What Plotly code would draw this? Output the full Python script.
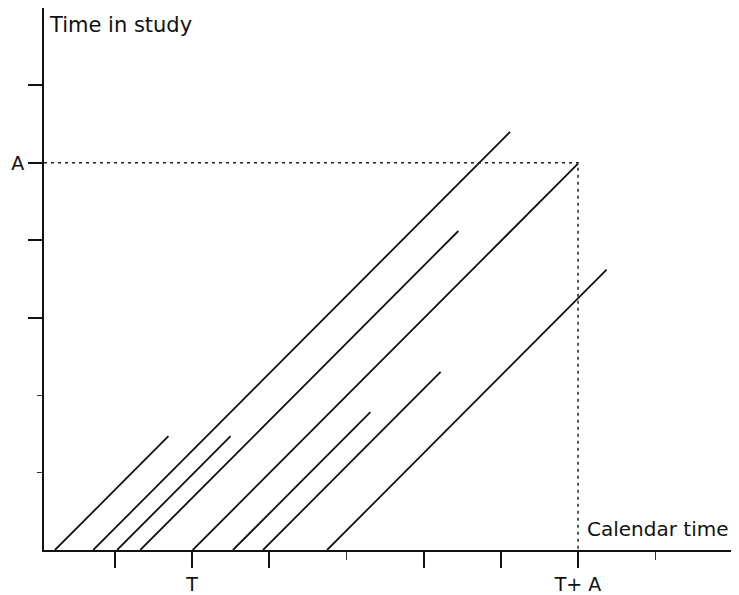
import plotly.graph_objects as go

# Entry (calendar) times of subjects and their follow-up durations
entry_times = [0.225, 0.72, 1.03, 1.33, 2.01, 2.53, 2.92, 3.75]
durations = [1.47, 5.40, 1.47, 4.12, 4.99, 1.78, 2.30, 3.62]

# Axis ticks
x_major_ticks = [1, 2, 3, 5, 6, 7]
x_major_labels = ["", "T", "", "", "", "T+ A"]
x_minor_ticks = [4, 8]
y_major_ticks = [3, 4, 5, 6]
y_major_labels = ["", "", "A", ""]
y_minor_ticks = [1, 2]

T_val = 2
A_val = 5

FONT = "DejaVu Sans, Verdana, sans-serif"

fig = go.Figure()

for e, d in zip(entry_times, durations):
    fig.add_trace(go.Scatter(
        x=[e, e + d], y=[0, d], mode="lines",
        line=dict(color="#111111", width=1.8),
        showlegend=False, hoverinfo="skip",
    ))

# Dotted guides at A and T+A
fig.add_trace(go.Scatter(
    x=[0.083, T_val + A_val, T_val + A_val], y=[A_val, A_val, -0.1],
    mode="lines", line=dict(color="#222222", width=1.5, dash="3px,4px"),
    showlegend=False, hoverinfo="skip", cliponaxis=False,
))

# The page body adds an 8px offset, so the figure is 8px smaller each way
fig.update_layout(
    width=731, height=587,
    margin=dict(l=36, r=0, t=0, b=45),
    paper_bgcolor="white", plot_bgcolor="white",
    font=dict(family=FONT, size=19, color="#111111"),
    xaxis=dict(
        range=[0.083, 9.085], showgrid=False, zeroline=False,
        showline=True, linecolor="#111111", linewidth=2,
        ticks="outside", ticklen=16, tickwidth=1.5, tickcolor="#111111",
        tickvals=x_major_ticks, ticktext=x_major_labels,
        tickfont=dict(family=FONT, size=19, color="#111111"),
        minor=dict(tickvals=x_minor_ticks, ticks="outside", ticklen=8,
                   tickcolor="#333333", tickwidth=1),
        fixedrange=True, automargin=False,
    ),
    yaxis=dict(
        range=[0, 7], showgrid=False, zeroline=False,
        showline=True, linecolor="#111111", linewidth=2,
        ticks="outside", ticklen=14, tickwidth=1.5, tickcolor="#111111",
        tickvals=y_major_ticks, ticktext=y_major_labels,
        tickfont=dict(family=FONT, size=19, color="#111111"),
        minor=dict(tickvals=y_minor_ticks, ticks="outside", ticklen=5,
                   tickcolor="#333333", tickwidth=1),
        fixedrange=True, automargin=False,
    ),
    annotations=[
        dict(text="Time in study", xref="paper", yref="paper",
             x=0.004, y=0.969, xanchor="left", yanchor="middle",
             showarrow=False, font=dict(family=FONT, size=21, color="#111111")),
        dict(text="Calendar time", xref="paper", yref="paper",
             x=0.778, y=0.039, xanchor="left", yanchor="middle",
             showarrow=False, font=dict(family=FONT, size=20, color="#111111")),
    ],
)

fig.write_html("out.html")
